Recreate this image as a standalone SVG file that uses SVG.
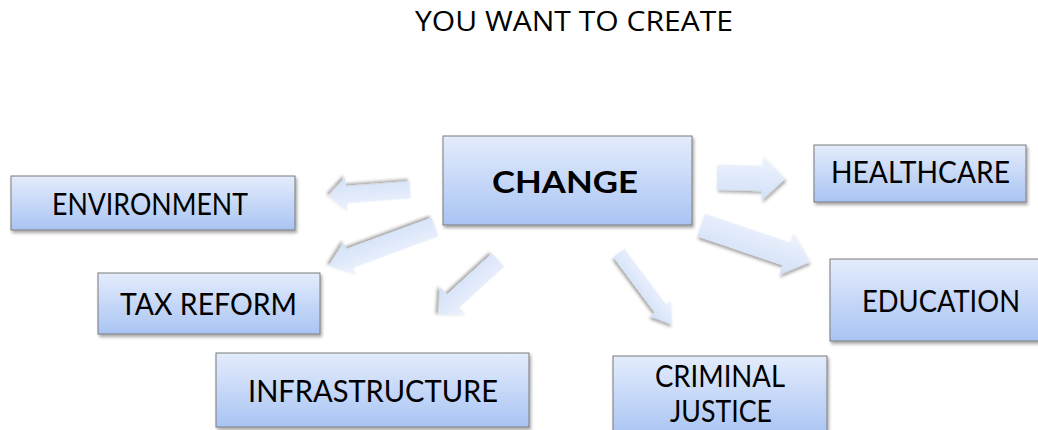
<svg xmlns="http://www.w3.org/2000/svg" width="1038" height="430" viewBox="0 0 1038 430">
  <defs>
    <linearGradient id="boxGrad" x1="0" y1="0" x2="0" y2="1">
      <stop offset="0" stop-color="#e4ecfc"/>
      <stop offset="1" stop-color="#a9c4f3"/>
    </linearGradient>
    <linearGradient id="arrGrad" x1="0" y1="0" x2="0" y2="1">
      <stop offset="0" stop-color="#eef3fd"/>
      <stop offset="1" stop-color="#d2e0f8"/>
    </linearGradient>
    <filter id="shadow" x="-20%" y="-20%" width="140%" height="150%">
      <feDropShadow dx="1.5" dy="2.5" stdDeviation="1.8" flood-color="#000" flood-opacity="0.35"/>
    </filter>
  </defs>
  <style>
    .box { fill: url(#boxGrad); stroke: #7a7a7a; stroke-width: 1; filter: url(#shadow); }
    .arr { fill: url(#arrGrad); stroke: none; filter: url(#shadow); }
    .lbl { font-family: Lato, "Open Sans", "DejaVu Sans", sans-serif; font-size: 30px; fill: #000; }
    .title { font-family: "Open Sans", "Liberation Sans", sans-serif; font-size: 26.5px; fill: #000; }
  </style>

  <text class="title" x="415" y="31" textLength="318" lengthAdjust="spacingAndGlyphs">YOU WANT TO CREATE</text>

  <g id="connectors">
    <path class="arr" transform="translate(410,190) rotate(175.8)" d="M0,-8.5 L64,-8.5 L64,-17 L82,0 L64,17 L64,8.5 L0,8.5 Z"/>
    <path class="arr" transform="translate(435,227) rotate(159.8)" d="M0,-10 L91,-10 L91,-17 L113,0 L91,17 L91,10 L0,10 Z"/>
    <path class="arr" transform="translate(717,177) rotate(1.7)" d="M0,-12.5 L45,-12.5 L45,-22 L68,0 L45,22 L45,12.5 L0,12.5 Z"/>
    <path class="arr" transform="translate(701,225) rotate(18.7)" d="M0,-12 L90,-12 L90,-22 L115,0 L90,22 L90,12 L0,12 Z"/>
    <path class="arr" transform="translate(498,260) rotate(137.5)" d="M0,-9 L61,-9 L61,-19 L81,0 L61,19 L61,9 L0,9 Z"/>
    <path class="arr" transform="translate(619,253) rotate(53.3)" d="M0,-7 L69,-7 L69,-13 L89,0 L69,13 L69,7 L0,7 Z"/>
  </g>

  <g id="change">
    <rect class="box" x="443" y="136" width="249" height="89"/>
    <text class="lbl" x="492" y="193" font-weight="bold" font-size="42" textLength="146" lengthAdjust="spacingAndGlyphs">CHANGE</text>
  </g>
  <g id="environment">
    <rect class="box" x="11" y="176" width="284" height="54"/>
    <text class="lbl" x="52" y="215" textLength="196" lengthAdjust="spacingAndGlyphs">ENVIRONMENT</text>
  </g>
  <g id="healthcare">
    <rect class="box" x="814" y="145" width="212" height="57"/>
    <text class="lbl" x="831" y="183" textLength="179" lengthAdjust="spacingAndGlyphs">HEALTHCARE</text>
  </g>
  <g id="taxreform">
    <rect class="box" x="98" y="273" width="222" height="61"/>
    <text class="lbl" x="120" y="315" textLength="177" lengthAdjust="spacingAndGlyphs">TAX REFORM</text>
  </g>
  <g id="education">
    <rect class="box" x="830" y="259" width="215" height="82"/>
    <text class="lbl" x="862" y="312" font-size="32" textLength="158" lengthAdjust="spacingAndGlyphs">EDUCATION</text>
  </g>
  <g id="infrastructure">
    <rect class="box" x="216" y="353" width="313" height="74"/>
    <text class="lbl" x="248" y="402" textLength="250" lengthAdjust="spacingAndGlyphs">INFRASTRUCTURE</text>
  </g>
  <g id="criminaljustice">
    <rect class="box" x="613" y="356" width="214" height="80"/>
    <text class="lbl" x="655" y="387" textLength="130" lengthAdjust="spacingAndGlyphs">CRIMINAL</text>
    <text class="lbl" x="670" y="422" textLength="102" lengthAdjust="spacingAndGlyphs">JUSTICE</text>
  </g>
</svg>
